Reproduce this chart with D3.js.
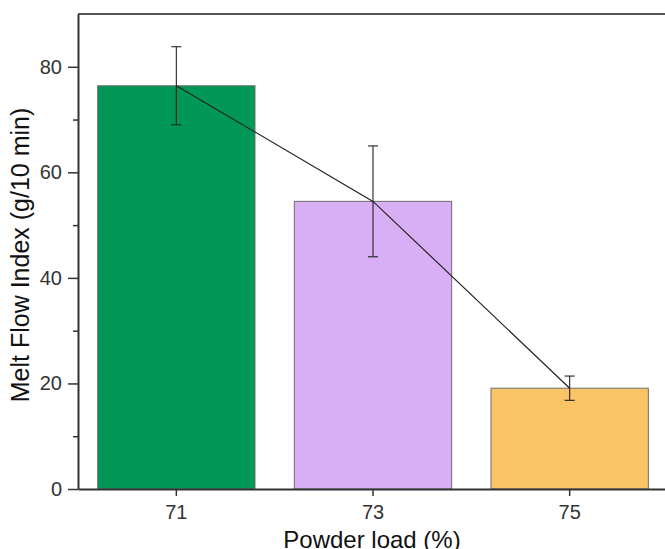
<!DOCTYPE html>
<html lang="en">
<head>
	<meta charset="UTF-8" />
	<script src="https://d3js.org/d3.v7.min.js"></script>
	<style type="text/css">
		body { margin: 0; background: #fff; }
		svg { display: block; font-family: "Liberation Sans", Arial, sans-serif; }
		.tick text { fill: #333; }
	</style>
	<title>Melt Flow Index</title>
</head>
<body>
<script type="text/javascript">
	// Data
	var loads = ["71", "73", "75"];
	var mfi = [76.4, 54.5, 19.1];
	var mfiErr = [7.4, 10.5, 2.3];
	var barColors = ["#009757", "#d8aff5", "#f9c466"];
	var yTicks = [0, 20, 40, 60, 80];

	var W = 665, H = 549;
	var margin = {top: 14, right: -3, bottom: 60, left: 78},
	    w = W - margin.left - margin.right,
	    h = H - margin.top - margin.bottom;

	var svg = d3.select("body").append("svg")
	    .attr("width", W)
	    .attr("height", H);

	var g = svg.append("g")
	    .attr("transform", "translate(" + margin.left + "," + margin.top + ")");

	var xScale = d3.scaleBand()
	    .domain(loads)
	    .range([0, w])
	    .paddingInner(0.2)
	    .paddingOuter(0.1);

	var yScale = d3.scaleLinear()
	    .domain([0, 90])
	    .range([h, 0]);

	var data = loads.map(function(d, i) {
		return {load: d, v: mfi[i], e: mfiErr[i], c: barColors[i]};
	});

	// bars
	g.selectAll(".bar")
	   .data(data)
	   .enter()
	   .append("rect")
	   .attr("class", "bar")
	   .attr("x", function(d) { return xScale(d.load); })
	   .attr("width", xScale.bandwidth())
	   .attr("y", function(d) { return yScale(d.v); })
	   .attr("height", function(d) { return h - yScale(d.v); })
	   .attr("fill", function(d) { return d.c; })
	   .attr("stroke", "#6e6e6e")
	   .attr("stroke-width", 1);

	var cx = function(d) { return xScale(d.load) + xScale.bandwidth() / 2; };

	// connecting line
	g.append("path")
	   .datum(data)
	   .attr("fill", "none")
	   .attr("stroke", "#222")
	   .attr("stroke-width", 1.2)
	   .attr("d", d3.line().x(cx).y(function(d) { return yScale(d.v); }));

	// error bars
	var eb = g.selectAll(".err")
	   .data(data)
	   .enter()
	   .append("g")
	   .attr("class", "err")
	   .attr("stroke", "#222")
	   .attr("stroke-width", 1.1);

	eb.append("line")
	   .attr("x1", cx).attr("x2", cx)
	   .attr("y1", function(d) { return yScale(d.v + d.e); })
	   .attr("y2", function(d) { return yScale(d.v - d.e); });
	eb.append("line")
	   .attr("x1", function(d) { return cx(d) - 5; })
	   .attr("x2", function(d) { return cx(d) + 5; })
	   .attr("y1", function(d) { return yScale(d.v + d.e); })
	   .attr("y2", function(d) { return yScale(d.v + d.e); });
	eb.append("line")
	   .attr("x1", function(d) { return cx(d) - 5; })
	   .attr("x2", function(d) { return cx(d) + 5; })
	   .attr("y1", function(d) { return yScale(d.v - d.e); })
	   .attr("y2", function(d) { return yScale(d.v - d.e); });

	// top frame line
	g.append("line")
	   .attr("x1", 0).attr("x2", w)
	   .attr("y1", 0).attr("y2", 0)
	   .attr("stroke", "#555")
	   .attr("stroke-width", 2);

	// minor y ticks
	var minor = d3.range(10, 90, 20);
	g.append("g")
	   .attr("class", "y_minor")
	   .call(d3.axisLeft(yScale).tickValues(minor).tickSize(5).tickFormat(""))
	   .call(function(s) { s.select(".domain").remove(); })
	   .selectAll("line").attr("stroke", "#333").attr("stroke-width", 1.5);

	// y axis
	var yAxis = g.append("g")
	   .attr("class", "y_axis")
	   .call(d3.axisLeft(yScale).tickValues(yTicks).tickSize(10).tickPadding(6).tickSizeOuter(0));
	yAxis.selectAll("text").style("font-size", "20px");
	yAxis.selectAll("line").attr("stroke", "#333").attr("stroke-width", 1.5);
	yAxis.select(".domain").attr("stroke", "#333").attr("stroke-width", 2);

	// x axis
	var xAxis = g.append("g")
	   .attr("class", "x_axis")
	   .attr("transform", "translate(0," + h + ")")
	   .call(d3.axisBottom(xScale).tickSize(7).tickPadding(9).tickSizeOuter(0));
	xAxis.selectAll("text").style("font-size", "20px");
	xAxis.selectAll("line").attr("stroke", "#333").attr("stroke-width", 1.5);
	xAxis.select(".domain").attr("stroke", "#333").attr("stroke-width", 2);

	// axis titles
	svg.append("text")
	   .attr("x", 372)
	   .attr("y", 548)
	   .attr("text-anchor", "middle")
	   .style("font-size", "24px")
	   .attr("fill", "#111")
	   .text("Powder load (%)");

	svg.append("text")
	   .attr("transform", "translate(29,255) rotate(-90)")
	   .attr("text-anchor", "middle")
	   .style("font-size", "25px")
	   .attr("fill", "#111")
	   .text("Melt Flow Index (g/10 min)");
</script>
</body>
</html>
